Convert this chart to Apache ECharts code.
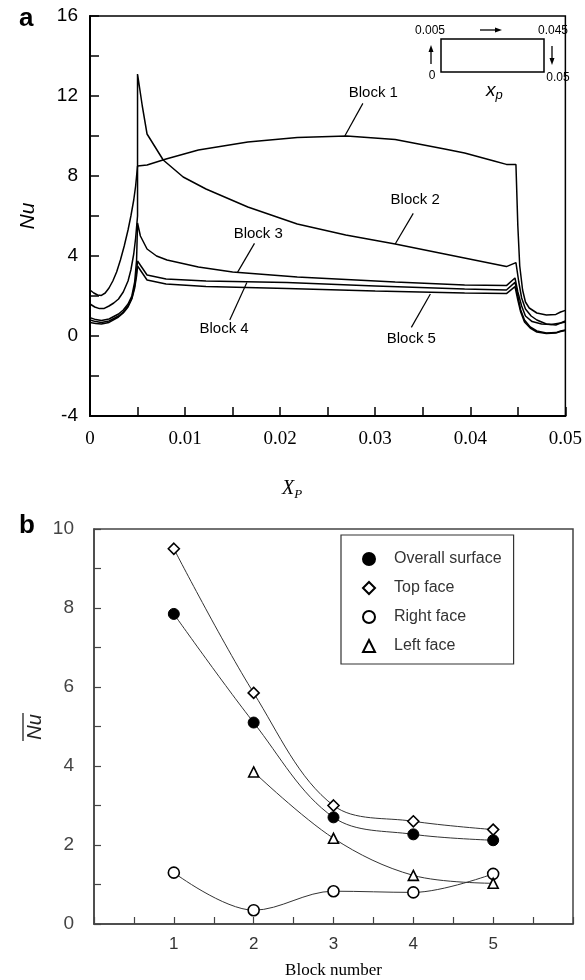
<!DOCTYPE html>
<html>
<head>
<meta charset="utf-8">
<script src="https://cdn.jsdelivr.net/npm/echarts@6/dist/echarts.min.js"></script>
<style>
  html, body { margin: 0; padding: 0; background: #fff; }
  #main { width: 585px; height: 980px; }
</style>
</head>
<body>
<div id="main"></div>
<script>
// ---- panel a: local Nu along the block perimeter, [Xp, Nu] ----
const block1 = [[0, 2.3], [0.0004, 2.15], [0.0008, 2.05], [0.0012, 2.03], [0.0016, 2.15], [0.002, 2.4], [0.0024, 2.75],
  [0.0028, 3.2], [0.0032, 3.8], [0.0036, 4.5], [0.004, 5.3], [0.0043, 6.0], [0.0046, 6.8], [0.0048, 7.5], [0.005, 8.5],
  [0.006, 8.55], [0.008, 8.85], [0.0114, 9.3], [0.0166, 9.7], [0.0218, 9.93], [0.027, 10.0], [0.0321, 9.82],
  [0.0373, 9.35], [0.0394, 9.15], [0.0425, 8.75], [0.0438, 8.58], [0.0448, 8.58],
  [0.045, 5.5], [0.0452, 3.5], [0.0455, 2.3], [0.0458, 1.7], [0.0462, 1.4], [0.047, 1.15], [0.048, 1.05],
  [0.049, 1.08], [0.0495, 1.2], [0.05, 1.28]]
const block2 = [[0, 1.6], [0.0005, 1.45], [0.001, 1.37], [0.0015, 1.38], [0.002, 1.5], [0.0025, 1.65], [0.003, 1.85],
  [0.0035, 2.2], [0.004, 2.75], [0.0043, 3.3], [0.0046, 4.1], [0.0048, 4.9], [0.005, 6.0], [0.005, 13.1],
  [0.0055, 11.5], [0.006, 10.1], [0.0077, 8.8], [0.0098, 7.95], [0.0122, 7.35], [0.0166, 6.45], [0.0218, 5.6],
  [0.0269, 5.05], [0.0321, 4.6], [0.0373, 4.1], [0.0425, 3.6], [0.0438, 3.47], [0.0448, 3.67],
  [0.0451, 2.7], [0.0454, 1.9], [0.0458, 1.35], [0.0464, 1.0], [0.047, 0.8], [0.048, 0.6], [0.049, 0.55],
  [0.0495, 0.65], [0.05, 0.75]]
const block3 = [[0, 0.92], [0.0006, 0.82], [0.0012, 0.78], [0.002, 0.85], [0.003, 1.1], [0.0035, 1.3], [0.004, 1.6],
  [0.0044, 2.0], [0.0047, 2.7], [0.0049, 3.8], [0.005, 5.65], [0.0053, 5.0], [0.006, 4.35], [0.007, 4.0],
  [0.0081, 3.8], [0.0114, 3.45], [0.015, 3.2], [0.0218, 2.95], [0.0321, 2.7], [0.0394, 2.55], [0.0438, 2.52],
  [0.0447, 2.9], [0.045, 2.2], [0.0454, 1.5], [0.0458, 1.0], [0.0465, 0.72], [0.0475, 0.6], [0.0485, 0.58],
  [0.0495, 0.65], [0.05, 0.7]]
const block4 = [[0, 0.8], [0.0006, 0.72], [0.0012, 0.68], [0.002, 0.75], [0.003, 1.0], [0.0035, 1.2], [0.004, 1.5],
  [0.0044, 1.9], [0.0047, 2.5], [0.0049, 3.2], [0.005, 3.75], [0.0055, 3.4], [0.006, 3.05], [0.008, 2.85],
  [0.0122, 2.75], [0.0207, 2.67], [0.03, 2.5], [0.0394, 2.35], [0.0438, 2.3], [0.0447, 2.68],
  [0.045, 2.0], [0.0453, 1.3], [0.0457, 0.8], [0.0463, 0.45], [0.047, 0.25], [0.048, 0.15], [0.049, 0.17],
  [0.0495, 0.25], [0.05, 0.3]]
const block5 = [[0, 0.67], [0.0006, 0.62], [0.0012, 0.6], [0.002, 0.68], [0.003, 0.95], [0.0035, 1.15], [0.004, 1.45],
  [0.0044, 1.85], [0.0047, 2.4], [0.0049, 3.0], [0.005, 3.5], [0.0055, 3.15], [0.006, 2.8], [0.008, 2.6],
  [0.0122, 2.47], [0.0207, 2.38], [0.03, 2.25], [0.0394, 2.15], [0.0438, 2.12], [0.0447, 2.47],
  [0.045, 1.8], [0.0453, 1.2], [0.0457, 0.7], [0.0463, 0.4], [0.047, 0.2], [0.048, 0.12], [0.049, 0.15],
  [0.0495, 0.22], [0.05, 0.28]]

const blockNames = ['Block 1', 'Block 2', 'Block 3', 'Block 4', 'Block 5']
// label centre, leader start, leader end (data coords)
const labelAt = [[0.0298, 12.15], [0.0342, 6.8], [0.0177, 5.13], [0.0141, 0.38], [0.0338, -0.12]]
const leaderFrom = [[0.0287, 11.63], [0.034, 6.13], [0.0173, 4.63], [0.0147, 0.8], [0.0338, 0.43]]
const leaderTo = [[0.0268, 10.0], [0.0321, 4.6], [0.0155, 3.17], [0.0165, 2.67], [0.0358, 2.1]]

// ---- panel b: mean Nu per block ----
const blockNums = [1, 2, 3, 4, 5]
const overallNu = [7.85, 5.1, 2.7, 2.27, 2.12]
const topNu = [9.5, 5.85, 3.0, 2.6, 2.39]
const rightNu = [1.3, 0.35, 0.83, 0.8, 1.27]
const leftNu = [null, 3.85, 2.17, 1.23, 1.03]

const chart = echarts.init(document.getElementById('main'))

const SANS = 'Liberation Sans, Arial, sans-serif'
const SERIF = 'Liberation Serif, Times New Roman, serif'

const near = (v, step) => Math.abs(v / step - Math.round(v / step)) < 1e-6

function blockSeries(data, i) {
  return {
    type: 'line',
    xAxisIndex: 0,
    yAxisIndex: 0,
    data,
    symbol: 'none',
    silent: true,
    lineStyle: { color: '#000', width: 1.5 },
    markLine: {
      silent: true,
      symbol: 'none',
      animation: false,
      label: { show: false },
      lineStyle: { color: '#000', width: 1.2, type: 'solid' },
      data: [[{ coord: leaderFrom[i] }, { coord: leaderTo[i] }]]
    },
    markPoint: {
      silent: true,
      symbol: 'circle',
      symbolSize: 0,
      animation: false,
      label: {
        show: true,
        position: 'inside',
        formatter: blockNames[i],
        color: '#000',
        fontFamily: SANS,
        fontSize: 15
      },
      data: [{ coord: labelAt[i] }]
    }
  }
}

function pairs(ys) {
  return blockNums.map((b, i) => [b, ys[i]]).filter(p => p[1] != null)
}

function avgSeries(name, ys, symbol, size, filled) {
  return {
    name,
    type: 'line',
    xAxisIndex: 1,
    yAxisIndex: 1,
    data: pairs(ys),
    smooth: 0.35,
    symbol,
    symbolSize: size,
    silent: true,
    lineStyle: { color: '#333', width: 1 },
    itemStyle: filled
      ? { color: '#000', borderColor: '#000', borderWidth: 1 }
      : { color: '#fff', borderColor: '#000', borderWidth: 1.6 },
    z: 3
  }
}

const option = {
  animation: false,
  backgroundColor: '#fff',
  grid: [
    { left: 90, right: 13, top: 16, height: 400, show: true, borderColor: '#000', borderWidth: 1.5, backgroundColor: 'transparent' },
    { left: 94, right: 12, top: 529, height: 397, show: true, borderColor: '#444', borderWidth: 1.5, backgroundColor: 'transparent' }
  ],
  xAxis: [
    {
      gridIndex: 0, type: 'value', min: 0, max: 0.05, interval: 0.005,
      axisLine: { onZero: false, lineStyle: { color: '#000', width: 2 } },
      axisTick: { inside: true, length: 9, lineStyle: { color: '#000', width: 1.5 } },
      splitLine: { show: false },
      axisLabel: {
        margin: 14, color: '#000', fontFamily: SERIF, fontSize: 19,
        formatter: v => near(v, 0.01) ? String(+v.toFixed(2)) : ''
      }
    },
    {
      gridIndex: 1, type: 'value', min: 0, max: 6, interval: 0.5,
      axisLine: { onZero: false, lineStyle: { color: '#444', width: 1.5 } },
      axisTick: { inside: true, length: 7, lineStyle: { color: '#444', width: 1.2 } },
      splitLine: { show: false },
      axisLabel: {
        margin: 12, color: '#333', fontFamily: SANS, fontSize: 17,
        formatter: v => (near(v, 1) && v > 0 && v < 6) ? String(v) : ''
      },
      name: 'Block number', nameLocation: 'middle', nameGap: 38,
      nameTextStyle: { color: '#000', fontFamily: SERIF, fontSize: 17 }
    }
  ],
  yAxis: [
    {
      gridIndex: 0, type: 'value', min: -4, max: 16, interval: 2,
      axisLine: { onZero: false, lineStyle: { color: '#000', width: 2 } },
      axisTick: { inside: true, length: 9, lineStyle: { color: '#000', width: 1.5 } },
      splitLine: { show: false },
      axisLabel: {
        margin: 12, color: '#000', fontFamily: SANS, fontSize: 19,
        formatter: v => near(v, 4) ? String(v) : ''
      }
    },
    {
      gridIndex: 1, type: 'value', min: 0, max: 10, interval: 1,
      axisLine: { onZero: false, lineStyle: { color: '#444', width: 1.5 } },
      axisTick: { inside: true, length: 7, lineStyle: { color: '#444', width: 1.2 } },
      splitLine: { show: false },
      axisLabel: {
        margin: 20, color: '#444', fontFamily: SANS, fontSize: 19,
        formatter: v => near(v, 2) ? String(v) : ''
      }
    }
  ],
  legend: {
    orient: 'vertical',
    left: 341, top: 535,
    padding: [16, 12, 10, 21],
    itemWidth: 12, itemHeight: 12, itemGap: 13,
    borderColor: '#333', borderWidth: 1.2,
    backgroundColor: '#fff',
    selectedMode: false,
    textStyle: { color: '#333', fontFamily: SANS, fontSize: 16, padding: [0, 0, 0, 14] },
    data: [
      { name: 'Overall surface', icon: 'circle' },
      { name: 'Top face', icon: 'diamond' },
      { name: 'Right face', icon: 'circle' },
      { name: 'Left face', icon: 'triangle' }
    ]
  },
  graphic: [
    { type: 'text', left: 19, top: 6, style: { text: 'a', font: 'bold 26px ' + SANS, fill: '#000' } },
    { type: 'text', left: 19, top: 513, style: { text: 'b', font: 'bold 26px ' + SANS, fill: '#000' } },
    // Nu (panel a) y-axis title
    {
      type: 'text', x: 28, y: 216, rotation: Math.PI / 2,
      style: { text: 'Nu', font: 'italic 21px ' + SANS, fill: '#000', align: 'center', verticalAlign: 'middle' }
    },
    // Xp (panel a) x-axis title
    {
      type: 'text', x: 282, y: 489,
      style: {
        text: '{a|X}{b|P}',
        rich: {
          a: { font: 'italic 20px ' + SERIF, fill: '#000' },
          b: { font: 'italic 13px ' + SERIF, fill: '#000', padding: [12, 0, 0, 0] }
        },
        verticalAlign: 'middle'
      }
    },
    // mean Nu (panel b) y-axis title with overbar
    {
      type: 'group', x: 35, y: 727, rotation: Math.PI / 2,
      children: [
        { type: 'text', x: 0, y: 0, style: { text: 'Nu', font: 'italic 20px ' + SANS, fill: '#222', align: 'center', verticalAlign: 'middle' } },
        { type: 'line', shape: { x1: -14, y1: -12, x2: 14, y2: -12 }, style: { stroke: '#222', lineWidth: 1.3 } }
      ]
    },
    // inset: block outline with perimeter coordinate
    { type: 'rect', shape: { x: 441, y: 39, width: 103, height: 33 }, style: { fill: 'none', stroke: '#000', lineWidth: 1.5 } },
    { type: 'text', x: 430, y: 31, style: { text: '0.005', font: '12px ' + SANS, fill: '#000', align: 'center', verticalAlign: 'middle' } },
    { type: 'text', x: 553, y: 31, style: { text: '0.045', font: '12px ' + SANS, fill: '#000', align: 'center', verticalAlign: 'middle' } },
    { type: 'text', x: 432, y: 76, style: { text: '0', font: '12px ' + SANS, fill: '#000', align: 'center', verticalAlign: 'middle' } },
    { type: 'text', x: 558, y: 78, style: { text: '0.05', font: '12px ' + SANS, fill: '#000', align: 'center', verticalAlign: 'middle' } },
    {
      type: 'text', x: 486, y: 91,
      style: {
        text: '{a|x}{b|p}',
        rich: {
          a: { font: 'italic 19px ' + SANS, fill: '#000' },
          b: { font: 'italic 13px ' + SANS, fill: '#000', padding: [9, 0, 0, 0] }
        },
        verticalAlign: 'middle'
      }
    },
    { type: 'line', shape: { x1: 480, y1: 30, x2: 496, y2: 30 }, style: { stroke: '#000', lineWidth: 1.3 } },
    { type: 'polygon', shape: { points: [[502, 30], [495, 27.5], [495, 32.5]] }, style: { fill: '#000' } },
    { type: 'line', shape: { x1: 431, y1: 64, x2: 431, y2: 51 }, style: { stroke: '#000', lineWidth: 1.3 } },
    { type: 'polygon', shape: { points: [[431, 45], [428.5, 52], [433.5, 52]] }, style: { fill: '#000' } },
    { type: 'line', shape: { x1: 552, y1: 46, x2: 552, y2: 59 }, style: { stroke: '#000', lineWidth: 1.3 } },
    { type: 'polygon', shape: { points: [[552, 65], [549.5, 58], [554.5, 58]] }, style: { fill: '#000' } }
  ],
  series: [
    blockSeries(block1, 0),
    blockSeries(block2, 1),
    blockSeries(block3, 2),
    blockSeries(block4, 3),
    blockSeries(block5, 4),
    avgSeries('Overall surface', overallNu, 'circle', 11, true),
    avgSeries('Top face', topNu, 'diamond', 11, false),
    avgSeries('Right face', rightNu, 'circle', 11, false),
    avgSeries('Left face', leftNu, 'triangle', 10, false)
  ]
}

chart.setOption(option)
</script>
</body>
</html>
